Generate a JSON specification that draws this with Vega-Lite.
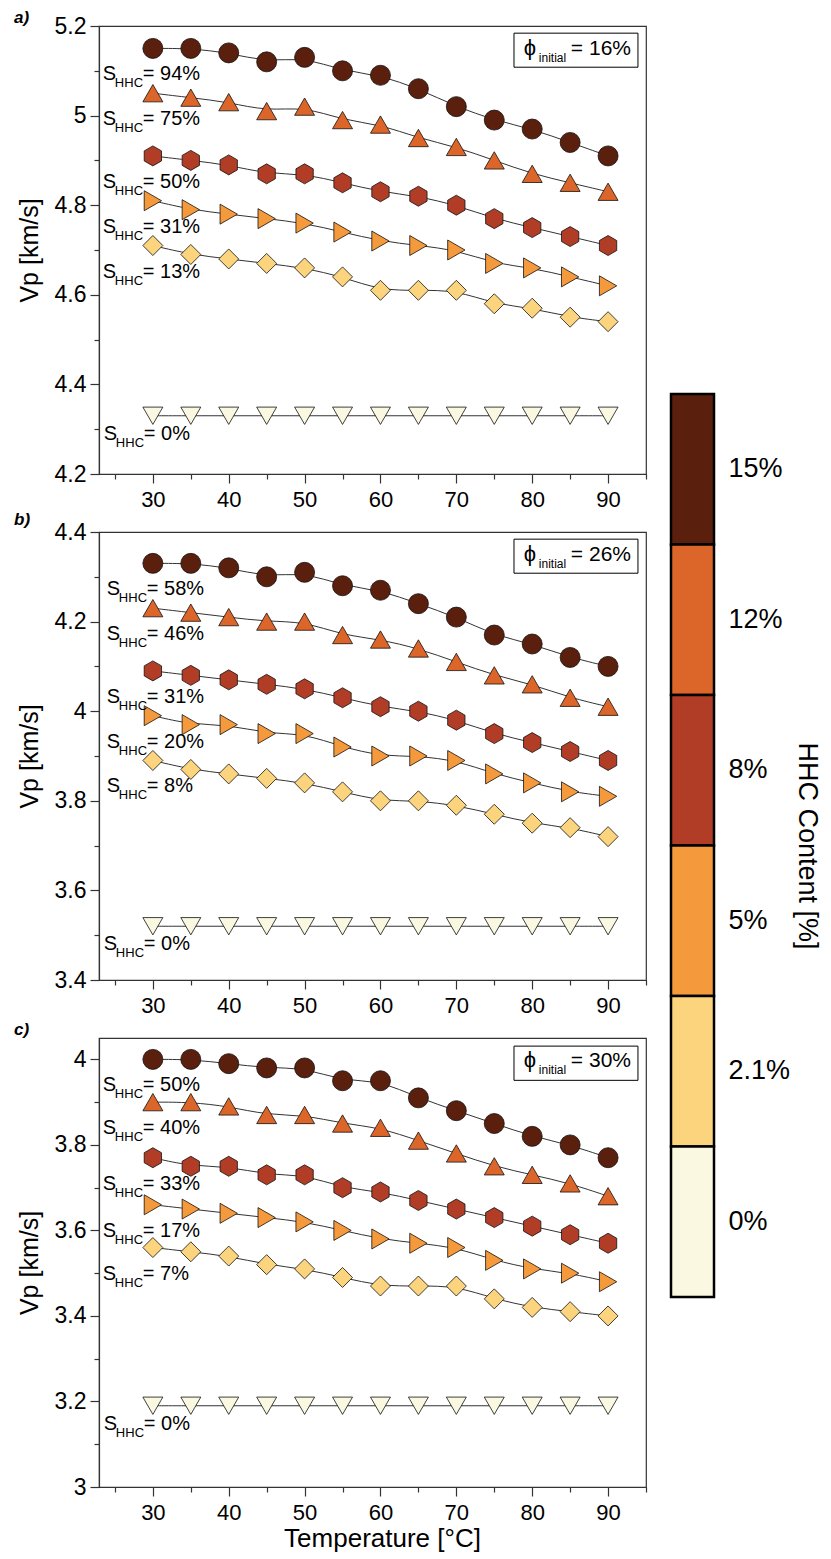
{
  "$schema": "https://vega.github.io/schema/vega-lite/v6.json",
  "padding": {"left": 13, "top": 8, "right": 0, "bottom": 0},
  "background": "white",
  "config": {
    "font": "Liberation Sans",
    "view": {"stroke": "#333", "strokeWidth": 1.2},
    "axis": {"labelColor": "black", "titleColor": "black", "domainColor": "#333", "domainWidth": 1.2, "tickColor": "#333", "tickWidth": 1.2, "grid": false, "labelFont": "Liberation Sans", "titleFont": "Liberation Sans", "titleFontWeight": "normal"},
    "text": {"font": "Liberation Sans", "color": "black"}
  },
  "datasets": {
    "d": [
      {"p":"a","h":"15%","s":"94%","t":30,"v":5.15},{"p":"a","h":"15%","s":"94%","t":35,"v":5.15},{"p":"a","h":"15%","s":"94%","t":40,"v":5.14},{"p":"a","h":"15%","s":"94%","t":45,"v":5.12},{"p":"a","h":"15%","s":"94%","t":50,"v":5.13},{"p":"a","h":"15%","s":"94%","t":55,"v":5.10},{"p":"a","h":"15%","s":"94%","t":60,"v":5.09},{"p":"a","h":"15%","s":"94%","t":65,"v":5.06},{"p":"a","h":"15%","s":"94%","t":70,"v":5.02},{"p":"a","h":"15%","s":"94%","t":75,"v":4.99},{"p":"a","h":"15%","s":"94%","t":80,"v":4.97},{"p":"a","h":"15%","s":"94%","t":85,"v":4.94},{"p":"a","h":"15%","s":"94%","t":90,"v":4.91},
      {"p":"a","h":"12%","s":"75%","t":30,"v":5.05},{"p":"a","h":"12%","s":"75%","t":35,"v":5.04},{"p":"a","h":"12%","s":"75%","t":40,"v":5.03},{"p":"a","h":"12%","s":"75%","t":45,"v":5.01},{"p":"a","h":"12%","s":"75%","t":50,"v":5.02},{"p":"a","h":"12%","s":"75%","t":55,"v":4.99},{"p":"a","h":"12%","s":"75%","t":60,"v":4.98},{"p":"a","h":"12%","s":"75%","t":65,"v":4.95},{"p":"a","h":"12%","s":"75%","t":70,"v":4.93},{"p":"a","h":"12%","s":"75%","t":75,"v":4.90},{"p":"a","h":"12%","s":"75%","t":80,"v":4.87},{"p":"a","h":"12%","s":"75%","t":85,"v":4.85},{"p":"a","h":"12%","s":"75%","t":90,"v":4.83},
      {"p":"a","h":"8%","s":"50%","t":30,"v":4.91},{"p":"a","h":"8%","s":"50%","t":35,"v":4.90},{"p":"a","h":"8%","s":"50%","t":40,"v":4.89},{"p":"a","h":"8%","s":"50%","t":45,"v":4.87},{"p":"a","h":"8%","s":"50%","t":50,"v":4.87},{"p":"a","h":"8%","s":"50%","t":55,"v":4.85},{"p":"a","h":"8%","s":"50%","t":60,"v":4.83},{"p":"a","h":"8%","s":"50%","t":65,"v":4.82},{"p":"a","h":"8%","s":"50%","t":70,"v":4.80},{"p":"a","h":"8%","s":"50%","t":75,"v":4.77},{"p":"a","h":"8%","s":"50%","t":80,"v":4.75},{"p":"a","h":"8%","s":"50%","t":85,"v":4.73},{"p":"a","h":"8%","s":"50%","t":90,"v":4.71},
      {"p":"a","h":"5%","s":"31%","t":30,"v":4.81},{"p":"a","h":"5%","s":"31%","t":35,"v":4.79},{"p":"a","h":"5%","s":"31%","t":40,"v":4.78},{"p":"a","h":"5%","s":"31%","t":45,"v":4.77},{"p":"a","h":"5%","s":"31%","t":50,"v":4.76},{"p":"a","h":"5%","s":"31%","t":55,"v":4.74},{"p":"a","h":"5%","s":"31%","t":60,"v":4.72},{"p":"a","h":"5%","s":"31%","t":65,"v":4.71},{"p":"a","h":"5%","s":"31%","t":70,"v":4.70},{"p":"a","h":"5%","s":"31%","t":75,"v":4.67},{"p":"a","h":"5%","s":"31%","t":80,"v":4.66},{"p":"a","h":"5%","s":"31%","t":85,"v":4.64},{"p":"a","h":"5%","s":"31%","t":90,"v":4.62},
      {"p":"a","h":"2.1%","s":"13%","t":30,"v":4.71},{"p":"a","h":"2.1%","s":"13%","t":35,"v":4.69},{"p":"a","h":"2.1%","s":"13%","t":40,"v":4.68},{"p":"a","h":"2.1%","s":"13%","t":45,"v":4.67},{"p":"a","h":"2.1%","s":"13%","t":50,"v":4.66},{"p":"a","h":"2.1%","s":"13%","t":55,"v":4.64},{"p":"a","h":"2.1%","s":"13%","t":60,"v":4.61},{"p":"a","h":"2.1%","s":"13%","t":65,"v":4.61},{"p":"a","h":"2.1%","s":"13%","t":70,"v":4.61},{"p":"a","h":"2.1%","s":"13%","t":75,"v":4.58},{"p":"a","h":"2.1%","s":"13%","t":80,"v":4.57},{"p":"a","h":"2.1%","s":"13%","t":85,"v":4.55},{"p":"a","h":"2.1%","s":"13%","t":90,"v":4.54},
      {"p":"a","h":"0%","s":"0%","t":30,"v":4.33},{"p":"a","h":"0%","s":"0%","t":35,"v":4.33},{"p":"a","h":"0%","s":"0%","t":40,"v":4.33},{"p":"a","h":"0%","s":"0%","t":45,"v":4.33},{"p":"a","h":"0%","s":"0%","t":50,"v":4.33},{"p":"a","h":"0%","s":"0%","t":55,"v":4.33},{"p":"a","h":"0%","s":"0%","t":60,"v":4.33},{"p":"a","h":"0%","s":"0%","t":65,"v":4.33},{"p":"a","h":"0%","s":"0%","t":70,"v":4.33},{"p":"a","h":"0%","s":"0%","t":75,"v":4.33},{"p":"a","h":"0%","s":"0%","t":80,"v":4.33},{"p":"a","h":"0%","s":"0%","t":85,"v":4.33},{"p":"a","h":"0%","s":"0%","t":90,"v":4.33},

      {"p":"b","h":"15%","s":"58%","t":30,"v":4.33},{"p":"b","h":"15%","s":"58%","t":35,"v":4.33},{"p":"b","h":"15%","s":"58%","t":40,"v":4.32},{"p":"b","h":"15%","s":"58%","t":45,"v":4.30},{"p":"b","h":"15%","s":"58%","t":50,"v":4.31},{"p":"b","h":"15%","s":"58%","t":55,"v":4.28},{"p":"b","h":"15%","s":"58%","t":60,"v":4.27},{"p":"b","h":"15%","s":"58%","t":65,"v":4.24},{"p":"b","h":"15%","s":"58%","t":70,"v":4.21},{"p":"b","h":"15%","s":"58%","t":75,"v":4.17},{"p":"b","h":"15%","s":"58%","t":80,"v":4.15},{"p":"b","h":"15%","s":"58%","t":85,"v":4.12},{"p":"b","h":"15%","s":"58%","t":90,"v":4.10},
      {"p":"b","h":"12%","s":"46%","t":30,"v":4.23},{"p":"b","h":"12%","s":"46%","t":35,"v":4.22},{"p":"b","h":"12%","s":"46%","t":40,"v":4.21},{"p":"b","h":"12%","s":"46%","t":45,"v":4.20},{"p":"b","h":"12%","s":"46%","t":50,"v":4.20},{"p":"b","h":"12%","s":"46%","t":55,"v":4.17},{"p":"b","h":"12%","s":"46%","t":60,"v":4.16},{"p":"b","h":"12%","s":"46%","t":65,"v":4.14},{"p":"b","h":"12%","s":"46%","t":70,"v":4.11},{"p":"b","h":"12%","s":"46%","t":75,"v":4.08},{"p":"b","h":"12%","s":"46%","t":80,"v":4.06},{"p":"b","h":"12%","s":"46%","t":85,"v":4.03},{"p":"b","h":"12%","s":"46%","t":90,"v":4.01},
      {"p":"b","h":"8%","s":"31%","t":30,"v":4.09},{"p":"b","h":"8%","s":"31%","t":35,"v":4.08},{"p":"b","h":"8%","s":"31%","t":40,"v":4.07},{"p":"b","h":"8%","s":"31%","t":45,"v":4.06},{"p":"b","h":"8%","s":"31%","t":50,"v":4.05},{"p":"b","h":"8%","s":"31%","t":55,"v":4.03},{"p":"b","h":"8%","s":"31%","t":60,"v":4.01},{"p":"b","h":"8%","s":"31%","t":65,"v":4.00},{"p":"b","h":"8%","s":"31%","t":70,"v":3.98},{"p":"b","h":"8%","s":"31%","t":75,"v":3.95},{"p":"b","h":"8%","s":"31%","t":80,"v":3.93},{"p":"b","h":"8%","s":"31%","t":85,"v":3.91},{"p":"b","h":"8%","s":"31%","t":90,"v":3.89},
      {"p":"b","h":"5%","s":"20%","t":30,"v":3.99},{"p":"b","h":"5%","s":"20%","t":35,"v":3.97},{"p":"b","h":"5%","s":"20%","t":40,"v":3.97},{"p":"b","h":"5%","s":"20%","t":45,"v":3.95},{"p":"b","h":"5%","s":"20%","t":50,"v":3.95},{"p":"b","h":"5%","s":"20%","t":55,"v":3.92},{"p":"b","h":"5%","s":"20%","t":60,"v":3.90},{"p":"b","h":"5%","s":"20%","t":65,"v":3.90},{"p":"b","h":"5%","s":"20%","t":70,"v":3.89},{"p":"b","h":"5%","s":"20%","t":75,"v":3.86},{"p":"b","h":"5%","s":"20%","t":80,"v":3.84},{"p":"b","h":"5%","s":"20%","t":85,"v":3.82},{"p":"b","h":"5%","s":"20%","t":90,"v":3.81},
      {"p":"b","h":"2.1%","s":"8%","t":30,"v":3.89},{"p":"b","h":"2.1%","s":"8%","t":35,"v":3.87},{"p":"b","h":"2.1%","s":"8%","t":40,"v":3.86},{"p":"b","h":"2.1%","s":"8%","t":45,"v":3.85},{"p":"b","h":"2.1%","s":"8%","t":50,"v":3.84},{"p":"b","h":"2.1%","s":"8%","t":55,"v":3.82},{"p":"b","h":"2.1%","s":"8%","t":60,"v":3.80},{"p":"b","h":"2.1%","s":"8%","t":65,"v":3.80},{"p":"b","h":"2.1%","s":"8%","t":70,"v":3.79},{"p":"b","h":"2.1%","s":"8%","t":75,"v":3.77},{"p":"b","h":"2.1%","s":"8%","t":80,"v":3.75},{"p":"b","h":"2.1%","s":"8%","t":85,"v":3.74},{"p":"b","h":"2.1%","s":"8%","t":90,"v":3.72},
      {"p":"b","h":"0%","s":"0%","t":30,"v":3.52},{"p":"b","h":"0%","s":"0%","t":35,"v":3.52},{"p":"b","h":"0%","s":"0%","t":40,"v":3.52},{"p":"b","h":"0%","s":"0%","t":45,"v":3.52},{"p":"b","h":"0%","s":"0%","t":50,"v":3.52},{"p":"b","h":"0%","s":"0%","t":55,"v":3.52},{"p":"b","h":"0%","s":"0%","t":60,"v":3.52},{"p":"b","h":"0%","s":"0%","t":65,"v":3.52},{"p":"b","h":"0%","s":"0%","t":70,"v":3.52},{"p":"b","h":"0%","s":"0%","t":75,"v":3.52},{"p":"b","h":"0%","s":"0%","t":80,"v":3.52},{"p":"b","h":"0%","s":"0%","t":85,"v":3.52},{"p":"b","h":"0%","s":"0%","t":90,"v":3.52},

      {"p":"c","h":"15%","s":"50%","t":30,"v":4.00},{"p":"c","h":"15%","s":"50%","t":35,"v":4.00},{"p":"c","h":"15%","s":"50%","t":40,"v":3.99},{"p":"c","h":"15%","s":"50%","t":45,"v":3.98},{"p":"c","h":"15%","s":"50%","t":50,"v":3.98},{"p":"c","h":"15%","s":"50%","t":55,"v":3.95},{"p":"c","h":"15%","s":"50%","t":60,"v":3.95},{"p":"c","h":"15%","s":"50%","t":65,"v":3.91},{"p":"c","h":"15%","s":"50%","t":70,"v":3.88},{"p":"c","h":"15%","s":"50%","t":75,"v":3.85},{"p":"c","h":"15%","s":"50%","t":80,"v":3.82},{"p":"c","h":"15%","s":"50%","t":85,"v":3.80},{"p":"c","h":"15%","s":"50%","t":90,"v":3.77},
      {"p":"c","h":"12%","s":"40%","t":30,"v":3.90},{"p":"c","h":"12%","s":"40%","t":35,"v":3.90},{"p":"c","h":"12%","s":"40%","t":40,"v":3.89},{"p":"c","h":"12%","s":"40%","t":45,"v":3.87},{"p":"c","h":"12%","s":"40%","t":50,"v":3.87},{"p":"c","h":"12%","s":"40%","t":55,"v":3.85},{"p":"c","h":"12%","s":"40%","t":60,"v":3.84},{"p":"c","h":"12%","s":"40%","t":65,"v":3.81},{"p":"c","h":"12%","s":"40%","t":70,"v":3.78},{"p":"c","h":"12%","s":"40%","t":75,"v":3.75},{"p":"c","h":"12%","s":"40%","t":80,"v":3.73},{"p":"c","h":"12%","s":"40%","t":85,"v":3.71},{"p":"c","h":"12%","s":"40%","t":90,"v":3.68},
      {"p":"c","h":"8%","s":"33%","t":30,"v":3.77},{"p":"c","h":"8%","s":"33%","t":35,"v":3.75},{"p":"c","h":"8%","s":"33%","t":40,"v":3.75},{"p":"c","h":"8%","s":"33%","t":45,"v":3.73},{"p":"c","h":"8%","s":"33%","t":50,"v":3.73},{"p":"c","h":"8%","s":"33%","t":55,"v":3.70},{"p":"c","h":"8%","s":"33%","t":60,"v":3.69},{"p":"c","h":"8%","s":"33%","t":65,"v":3.67},{"p":"c","h":"8%","s":"33%","t":70,"v":3.65},{"p":"c","h":"8%","s":"33%","t":75,"v":3.63},{"p":"c","h":"8%","s":"33%","t":80,"v":3.61},{"p":"c","h":"8%","s":"33%","t":85,"v":3.59},{"p":"c","h":"8%","s":"33%","t":90,"v":3.57},
      {"p":"c","h":"5%","s":"17%","t":30,"v":3.66},{"p":"c","h":"5%","s":"17%","t":35,"v":3.65},{"p":"c","h":"5%","s":"17%","t":40,"v":3.64},{"p":"c","h":"5%","s":"17%","t":45,"v":3.63},{"p":"c","h":"5%","s":"17%","t":50,"v":3.62},{"p":"c","h":"5%","s":"17%","t":55,"v":3.60},{"p":"c","h":"5%","s":"17%","t":60,"v":3.58},{"p":"c","h":"5%","s":"17%","t":65,"v":3.57},{"p":"c","h":"5%","s":"17%","t":70,"v":3.56},{"p":"c","h":"5%","s":"17%","t":75,"v":3.53},{"p":"c","h":"5%","s":"17%","t":80,"v":3.51},{"p":"c","h":"5%","s":"17%","t":85,"v":3.50},{"p":"c","h":"5%","s":"17%","t":90,"v":3.48},
      {"p":"c","h":"2.1%","s":"7%","t":30,"v":3.56},{"p":"c","h":"2.1%","s":"7%","t":35,"v":3.55},{"p":"c","h":"2.1%","s":"7%","t":40,"v":3.54},{"p":"c","h":"2.1%","s":"7%","t":45,"v":3.52},{"p":"c","h":"2.1%","s":"7%","t":50,"v":3.51},{"p":"c","h":"2.1%","s":"7%","t":55,"v":3.49},{"p":"c","h":"2.1%","s":"7%","t":60,"v":3.47},{"p":"c","h":"2.1%","s":"7%","t":65,"v":3.47},{"p":"c","h":"2.1%","s":"7%","t":70,"v":3.47},{"p":"c","h":"2.1%","s":"7%","t":75,"v":3.44},{"p":"c","h":"2.1%","s":"7%","t":80,"v":3.42},{"p":"c","h":"2.1%","s":"7%","t":85,"v":3.41},{"p":"c","h":"2.1%","s":"7%","t":90,"v":3.40},
      {"p":"c","h":"0%","s":"0%","t":30,"v":3.19},{"p":"c","h":"0%","s":"0%","t":35,"v":3.19},{"p":"c","h":"0%","s":"0%","t":40,"v":3.19},{"p":"c","h":"0%","s":"0%","t":45,"v":3.19},{"p":"c","h":"0%","s":"0%","t":50,"v":3.19},{"p":"c","h":"0%","s":"0%","t":55,"v":3.19},{"p":"c","h":"0%","s":"0%","t":60,"v":3.19},{"p":"c","h":"0%","s":"0%","t":65,"v":3.19},{"p":"c","h":"0%","s":"0%","t":70,"v":3.19},{"p":"c","h":"0%","s":"0%","t":75,"v":3.19},{"p":"c","h":"0%","s":"0%","t":80,"v":3.19},{"p":"c","h":"0%","s":"0%","t":85,"v":3.19},{"p":"c","h":"0%","s":"0%","t":90,"v":3.19}
    ]
  },
  "spacing": 21,
  "bounds": "full",
  "hconcat": [
  {
  "spacing": 58,
  "bounds": "flush",
  "vconcat": [
    {
      "width": 547, "height": 448,
      "data": {"name": "d"},
      "transform": [{"filter": "datum.p === 'a'"}, {"calculate": "'= ' + datum.s", "as": "lab"}],
      "encoding": {
        "x": {"field": "t", "type": "quantitative", "scale": {"domain": [22.9, 95], "nice": false, "zero": false},
              "axis": {"title": null, "values": [25,30,35,40,45,50,55,60,65,70,75,80,85,90,95], "labelExpr": "datum.value % 10 === 0 ? datum.label : ''", "tickSize": {"condition": {"test": "datum.value % 10 === 0", "value": 9}, "value": 5}, "labelFontSize": 22, "labelPadding": 6}},
        "y": {"field": "v", "type": "quantitative", "scale": {"domain": [4.2, 5.2], "nice": false, "zero": false},
              "axis": {"title": "Vp [km/s]", "values": [4.2,4.3,4.4,4.5,4.6,4.7,4.8,4.9,5.0,5.1,5.2], "format": "~g", "labelExpr": "round(datum.value*10) % 2 === 0 ? datum.label : ''", "tickSize": {"condition": {"test": "round(datum.value*10) % 2 === 0", "value": 9}, "value": 5}, "labelFontSize": 23, "labelPadding": 4, "titleFontSize": 25, "titlePadding": 12}}
      },
      "layer": [
        {"mark": {"type": "line", "interpolate": "basis", "color": "#333", "strokeWidth": 1}, "encoding": {"detail": {"field": "h"}}},
        {"mark": {"type": "point", "filled": true, "opacity": 1, "stroke": "#111", "strokeWidth": 0.8, "size": 400},
         "encoding": {
           "color": {"field": "h", "type": "nominal", "legend": null,
             "scale": {"domain": ["15%","12%","8%","5%","2.1%","0%"], "range": ["#5B1F0D","#DC6529","#B13D26","#F59A3C","#FCD47E","#FAF8E0"]}},
           "shape": {"field": "h", "type": "nominal", "legend": null,
             "scale": {"domain": ["15%","12%","8%","5%","2.1%","0%"], "range": ["circle","triangle-up","M0,-1L0.866,-0.5L0.866,0.5L0,1L-0.866,0.5L-0.866,-0.5Z","triangle-right","diamond","triangle-down"]}}
         }},
        {"transform": [{"filter": "datum.t === 30 && datum.h !== '0%'"}],
         "layer": [
           {"mark": {"type": "text", "text": "S", "align": "left", "baseline": "alphabetic", "dx": -50, "dy": 32, "fontSize": 20}},
           {"mark": {"type": "text", "text": "HHC", "align": "left", "baseline": "alphabetic", "dx": -38, "dy": 39, "fontSize": 13}},
           {"mark": {"type": "text", "align": "left", "baseline": "alphabetic", "dx": -10, "dy": 32, "fontSize": 20}, "encoding": {"text": {"field": "lab"}}}
         ]},
        {"transform": [{"filter": "datum.t === 30 && datum.h === '0%'"}],
         "layer": [
           {"mark": {"type": "text", "text": "S", "align": "left", "baseline": "alphabetic", "dx": -49, "dy": 24, "fontSize": 20}},
           {"mark": {"type": "text", "text": "HHC", "align": "left", "baseline": "alphabetic", "dx": -37, "dy": 31, "fontSize": 13}},
           {"mark": {"type": "text", "align": "left", "baseline": "alphabetic", "dx": -9, "dy": 24, "fontSize": 20}, "encoding": {"text": {"field": "lab"}}}
         ]},
        {"transform": [{"filter": "datum.t === 30 && datum.h === '0%'"}],
         "encoding": {"x": {"datum": 78.9}, "y": {"datum": 5.135}},
         "layer": [
           {"mark": {"type": "rect", "fill": "white", "stroke": "black", "strokeWidth": 1}, "encoding": {"x": {"datum": 77.6}, "x2": {"datum": 93.94}, "y": {"datum": 5.184}, "y2": {"datum": 5.108}}},
           {"mark": {"type": "text", "text": "ϕ", "align": "left", "baseline": "alphabetic", "fontSize": 22}},
           {"mark": {"type": "text", "text": "initial", "align": "left", "baseline": "alphabetic", "dx": 15, "dy": 7, "fontSize": 12}},
           {"mark": {"type": "text", "text": "= 16%", "align": "left", "baseline": "alphabetic", "dx": 47, "fontSize": 21}},
           {"mark": {"type": "text", "text": "a)", "align": "left", "baseline": "alphabetic", "fontSize": 17, "fontStyle": "italic", "fontWeight": "bold"}, "encoding": {"x": {"datum": 11.7}, "y": {"datum": 5.2067}}}
         ]}
      ]
    },
    {
      "width": 547, "height": 448,
      "data": {"name": "d"},
      "transform": [{"filter": "datum.p === 'b'"}, {"calculate": "'= ' + datum.s", "as": "lab"}],
      "encoding": {
        "x": {"field": "t", "type": "quantitative", "scale": {"domain": [22.9, 95], "nice": false, "zero": false},
              "axis": {"title": null, "values": [25,30,35,40,45,50,55,60,65,70,75,80,85,90,95], "labelExpr": "datum.value % 10 === 0 ? datum.label : ''", "tickSize": {"condition": {"test": "datum.value % 10 === 0", "value": 9}, "value": 5}, "labelFontSize": 22, "labelPadding": 6}},
        "y": {"field": "v", "type": "quantitative", "scale": {"domain": [3.4, 4.4], "nice": false, "zero": false},
              "axis": {"title": "Vp [km/s]", "values": [3.4,3.5,3.6,3.7,3.8,3.9,4.0,4.1,4.2,4.3,4.4], "format": "~g", "labelExpr": "round(datum.value*10) % 2 === 0 ? datum.label : ''", "tickSize": {"condition": {"test": "round(datum.value*10) % 2 === 0", "value": 9}, "value": 5}, "labelFontSize": 23, "labelPadding": 4, "titleFontSize": 25, "titlePadding": 12}}
      },
      "layer": [
        {"mark": {"type": "line", "interpolate": "basis", "color": "#333", "strokeWidth": 1}, "encoding": {"detail": {"field": "h"}}},
        {"mark": {"type": "point", "filled": true, "opacity": 1, "stroke": "#111", "strokeWidth": 0.8, "size": 400},
         "encoding": {
           "color": {"field": "h", "type": "nominal", "legend": null,
             "scale": {"domain": ["15%","12%","8%","5%","2.1%","0%"], "range": ["#5B1F0D","#DC6529","#B13D26","#F59A3C","#FCD47E","#FAF8E0"]}},
           "shape": {"field": "h", "type": "nominal", "legend": null,
             "scale": {"domain": ["15%","12%","8%","5%","2.1%","0%"], "range": ["circle","triangle-up","M0,-1L0.866,-0.5L0.866,0.5L0,1L-0.866,0.5L-0.866,-0.5Z","triangle-right","diamond","triangle-down"]}}
         }},
        {"transform": [{"filter": "datum.t === 30 && datum.h !== '0%'"}],
         "layer": [
           {"mark": {"type": "text", "text": "S", "align": "left", "baseline": "alphabetic", "dx": -46, "dy": 32, "fontSize": 20}},
           {"mark": {"type": "text", "text": "HHC", "align": "left", "baseline": "alphabetic", "dx": -34, "dy": 39, "fontSize": 13}},
           {"mark": {"type": "text", "align": "left", "baseline": "alphabetic", "dx": -6, "dy": 32, "fontSize": 20}, "encoding": {"text": {"field": "lab"}}}
         ]},
        {"transform": [{"filter": "datum.t === 30 && datum.h === '0%'"}],
         "layer": [
           {"mark": {"type": "text", "text": "S", "align": "left", "baseline": "alphabetic", "dx": -49, "dy": 24, "fontSize": 20}},
           {"mark": {"type": "text", "text": "HHC", "align": "left", "baseline": "alphabetic", "dx": -37, "dy": 31, "fontSize": 13}},
           {"mark": {"type": "text", "align": "left", "baseline": "alphabetic", "dx": -9, "dy": 24, "fontSize": 20}, "encoding": {"text": {"field": "lab"}}}
         ]},
        {"transform": [{"filter": "datum.t === 30 && datum.h === '0%'"}],
         "encoding": {"x": {"datum": 78.9}, "y": {"datum": 4.335}},
         "layer": [
           {"mark": {"type": "rect", "fill": "white", "stroke": "black", "strokeWidth": 1}, "encoding": {"x": {"datum": 77.6}, "x2": {"datum": 93.94}, "y": {"datum": 4.384}, "y2": {"datum": 4.308}}},
           {"mark": {"type": "text", "text": "ϕ", "align": "left", "baseline": "alphabetic", "fontSize": 22}},
           {"mark": {"type": "text", "text": "initial", "align": "left", "baseline": "alphabetic", "dx": 15, "dy": 7, "fontSize": 12}},
           {"mark": {"type": "text", "text": "= 26%", "align": "left", "baseline": "alphabetic", "dx": 47, "fontSize": 21}},
           {"mark": {"type": "text", "text": "b)", "align": "left", "baseline": "alphabetic", "fontSize": 17, "fontStyle": "italic", "fontWeight": "bold"}, "encoding": {"x": {"datum": 11.7}, "y": {"datum": 4.4156}}}
         ]}
      ]
    },
    {
      "width": 547, "height": 449,
      "data": {"name": "d"},
      "transform": [{"filter": "datum.p === 'c'"}, {"calculate": "'= ' + datum.s", "as": "lab"}],
      "encoding": {
        "x": {"field": "t", "type": "quantitative", "scale": {"domain": [22.9, 95], "nice": false, "zero": false},
              "axis": {"title": "Temperature [°C]", "values": [25,30,35,40,45,50,55,60,65,70,75,80,85,90,95], "labelExpr": "datum.value % 10 === 0 ? datum.label : ''", "tickSize": {"condition": {"test": "datum.value % 10 === 0", "value": 9}, "value": 5}, "labelFontSize": 22, "labelPadding": 6, "titleFontSize": 26, "titlePadding": 2, "titleX": 283}},
        "y": {"field": "v", "type": "quantitative", "scale": {"domain": [3.0, 4.05], "nice": false, "zero": false},
              "axis": {"title": "Vp [km/s]", "values": [3.0,3.1,3.2,3.3,3.4,3.5,3.6,3.7,3.8,3.9,4.0], "format": "~g", "labelExpr": "round(datum.value*10) % 2 === 0 ? datum.label : ''", "tickSize": {"condition": {"test": "round(datum.value*10) % 2 === 0", "value": 9}, "value": 5}, "labelFontSize": 23, "labelPadding": 4, "titleFontSize": 25, "titlePadding": 12}}
      },
      "layer": [
        {"mark": {"type": "line", "interpolate": "basis", "color": "#333", "strokeWidth": 1}, "encoding": {"detail": {"field": "h"}}},
        {"mark": {"type": "point", "filled": true, "opacity": 1, "stroke": "#111", "strokeWidth": 0.8, "size": 400},
         "encoding": {
           "color": {"field": "h", "type": "nominal", "legend": null,
             "scale": {"domain": ["15%","12%","8%","5%","2.1%","0%"], "range": ["#5B1F0D","#DC6529","#B13D26","#F59A3C","#FCD47E","#FAF8E0"]}},
           "shape": {"field": "h", "type": "nominal", "legend": null,
             "scale": {"domain": ["15%","12%","8%","5%","2.1%","0%"], "range": ["circle","triangle-up","M0,-1L0.866,-0.5L0.866,0.5L0,1L-0.866,0.5L-0.866,-0.5Z","triangle-right","diamond","triangle-down"]}}
         }},
        {"transform": [{"filter": "datum.t === 30 && datum.h !== '0%'"}],
         "layer": [
           {"mark": {"type": "text", "text": "S", "align": "left", "baseline": "alphabetic", "dx": -50, "dy": 32, "fontSize": 20}},
           {"mark": {"type": "text", "text": "HHC", "align": "left", "baseline": "alphabetic", "dx": -38, "dy": 39, "fontSize": 13}},
           {"mark": {"type": "text", "align": "left", "baseline": "alphabetic", "dx": -10, "dy": 32, "fontSize": 20}, "encoding": {"text": {"field": "lab"}}}
         ]},
        {"transform": [{"filter": "datum.t === 30 && datum.h === '0%'"}],
         "layer": [
           {"mark": {"type": "text", "text": "S", "align": "left", "baseline": "alphabetic", "dx": -49, "dy": 24, "fontSize": 20}},
           {"mark": {"type": "text", "text": "HHC", "align": "left", "baseline": "alphabetic", "dx": -37, "dy": 31, "fontSize": 13}},
           {"mark": {"type": "text", "align": "left", "baseline": "alphabetic", "dx": -9, "dy": 24, "fontSize": 20}, "encoding": {"text": {"field": "lab"}}}
         ]},
        {"transform": [{"filter": "datum.t === 30 && datum.h === '0%'"}],
         "encoding": {"x": {"datum": 78.9}, "y": {"datum": 3.982}},
         "layer": [
           {"mark": {"type": "rect", "fill": "white", "stroke": "black", "strokeWidth": 1}, "encoding": {"x": {"datum": 77.6}, "x2": {"datum": 93.94}, "y": {"datum": 4.031}, "y2": {"datum": 3.951}}},
           {"mark": {"type": "text", "text": "ϕ", "align": "left", "baseline": "alphabetic", "fontSize": 22}},
           {"mark": {"type": "text", "text": "initial", "align": "left", "baseline": "alphabetic", "dx": 15, "dy": 7, "fontSize": 12}},
           {"mark": {"type": "text", "text": "= 30%", "align": "left", "baseline": "alphabetic", "dx": 47, "fontSize": 21}},
           {"mark": {"type": "text", "text": "c)", "align": "left", "baseline": "alphabetic", "fontSize": 17, "fontStyle": "italic", "fontWeight": "bold"}, "encoding": {"x": {"datum": 11.7}, "y": {"datum": 4.057}}}
         ]}
      ]
    }
  ]
  },
  {
    "width": 43, "height": 1461,
    "view": {"stroke": null},
    "data": {"name": "d"},
    "transform": [{"filter": "datum.p === 'a' && datum.t === 30"}],
    "mark": {"type": "rect", "stroke": "black", "strokeWidth": 2.5, "opacity": 1},
    "encoding": {
      "y": {"field": "h", "type": "nominal",
            "scale": {"type": "band", "domain": ["15%","12%","8%","5%","2.1%","0%"], "paddingInner": 0, "paddingOuter": 0, "range": [368, 1271]},
            "axis": {"orient": "right", "title": "HHC Content [%]", "domain": false, "ticks": false, "tickSize": 0, "labelFontSize": 27, "labelPadding": 14, "labelColor": "black", "titleFontSize": 27, "titleAngle": 90, "titlePadding": 3}},
      "color": {"field": "h", "type": "nominal", "legend": null,
             "scale": {"domain": ["15%","12%","8%","5%","2.1%","0%"], "range": ["#5B1F0D","#DC6529","#B13D26","#F59A3C","#FCD47E","#FAF8E0"]}}
    }
  }
  ]
}
